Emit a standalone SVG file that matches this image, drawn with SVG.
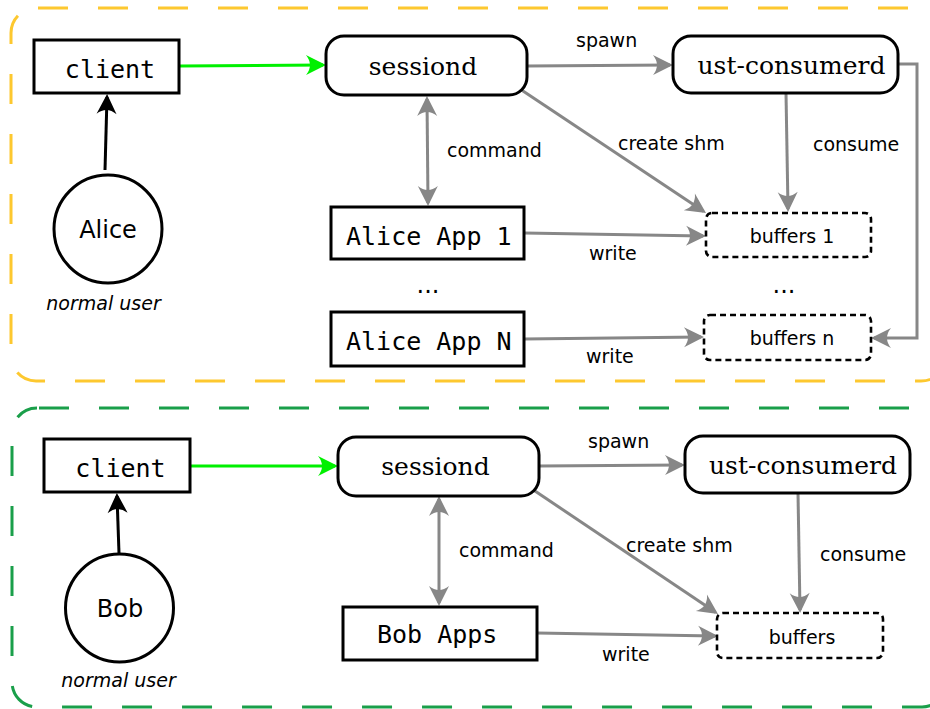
<svg xmlns="http://www.w3.org/2000/svg" width="930" height="709" viewBox="0 0 930 709">
  <style>
    .zone { fill: none; stroke-width: 3; stroke-dasharray: 30 30; stroke-dashoffset: -2; }
    .box { fill: #fff; stroke: #000; stroke-width: 3; }
    .buf { fill: #fff; stroke: #000; stroke-width: 2.6; stroke-dasharray: 6 4; }
    .mono { font-family: "DejaVu Sans Mono", "Liberation Mono", monospace; font-size: 25px; fill: #000; }
    .serif { font-family: "DejaVu Serif", "Liberation Serif", serif; font-size: 25px; fill: #000; }
    .sans { font-family: "DejaVu Sans", "Liberation Sans", sans-serif; font-size: 19px; fill: #000; }
    .user { font-family: "DejaVu Sans", "Liberation Sans", sans-serif; font-size: 24px; fill: #000; }
    .role { font-family: "DejaVu Sans", "Liberation Sans", sans-serif; font-size: 19px; font-style: italic; fill: #000; }
    .mid { text-anchor: middle; }
    .gray { fill: none; stroke: #878787; stroke-width: 3; marker-end: url(#ah-gray); }
    .both { marker-start: url(#ah-gray); }
    .green { fill: none; stroke: #00f000; stroke-width: 3; marker-end: url(#ah-green); }
    .black { fill: none; stroke: #000; stroke-width: 3; marker-end: url(#ah-black); }
  </style>
  <defs>
    <marker id="ah-gray" markerUnits="userSpaceOnUse" viewBox="-20 -12 26 24" markerWidth="26" markerHeight="24" refX="0" refY="0" orient="auto-start-reverse">
      <path d="M3,0 L-17,-10 Q-9,0 -17,10 Z" fill="#878787"/>
    </marker>
    <marker id="ah-green" markerUnits="userSpaceOnUse" viewBox="-20 -12 26 24" markerWidth="26" markerHeight="24" refX="0" refY="0" orient="auto">
      <path d="M3,0 L-17,-10 Q-9,0 -17,10 Z" fill="#00f000"/>
    </marker>
    <marker id="ah-black" markerUnits="userSpaceOnUse" viewBox="-20 -12 26 24" markerWidth="26" markerHeight="24" refX="0" refY="0" orient="auto">
      <path d="M3,0 L-17,-10 Q-9,0 -17,10 Z" fill="#000"/>
    </marker>
  </defs>

  <!-- user domains -->
  <rect id="alice-domain" class="zone" x="11" y="8" width="935" height="373" rx="25" stroke="#fdc82f"/>
  <rect id="bob-domain" class="zone" x="12" y="408" width="935" height="299" rx="25" stroke="#1a9f4a"/>

  <!-- connectors -->
  <g id="connectors">
    <!-- Alice -->
    <path class="green" d="M180,66 L323,65"/>
    <path class="black" d="M105,170 L107,97"/>
    <path class="gray" d="M527,66 L670,65"/>
    <path class="gray both" d="M427,99 L428,203"/>
    <path class="gray" d="M520,89 L703.5,211.3"/>
    <path class="gray" d="M786,93 L788,209"/>
    <path class="gray" d="M898,64 H917 V338 H874"/>
    <path class="gray" d="M524,233 L703,236"/>
    <path class="gray" d="M524,339 L701,337"/>
    <!-- Bob -->
    <path class="green" d="M190,466 L335,466"/>
    <path class="black" d="M119,553 L117,496"/>
    <path class="gray" d="M539,466 L682,465"/>
    <path class="gray both" d="M439,499 L439,603"/>
    <path class="gray" d="M532,489 L715.5,612.3"/>
    <path class="gray" d="M798,493 L800,610"/>
    <path class="gray" d="M537,633 L715,636"/>
  </g>

  <!-- connector labels -->
  <g id="labels">
    <text class="sans" x="576" y="47">spawn</text>
    <text class="sans" x="447" y="157">command</text>
    <text class="sans" x="618" y="150">create shm</text>
    <text class="sans" x="813" y="151">consume</text>
    <text class="sans" x="589" y="260">write</text>
    <text class="sans" x="586" y="363">write</text>
    <text class="sans" x="588" y="448">spawn</text>
    <text class="sans" x="459" y="557">command</text>
    <text class="sans" x="626" y="552">create shm</text>
    <text class="sans" x="820" y="561">consume</text>
    <text class="sans" x="602" y="661">write</text>
    <text class="user mid" x="428" y="293">...</text>
    <text class="user mid" x="784" y="293">...</text>
  </g>

  <!-- Alice nodes -->
  <g id="alice-client">
    <rect class="box" x="34" y="40" width="145" height="53"/>
    <text class="mono mid" x="110" y="78">client</text>
  </g>
  <g id="alice">
    <circle class="box" cx="108" cy="229" r="54"/>
    <text class="user mid" x="108" y="238">Alice</text>
    <text class="role mid" x="103.5" y="310">normal user</text>
  </g>
  <g id="alice-sessiond">
    <rect class="box" x="326" y="36" width="201" height="59" rx="18"/>
    <text class="serif mid" x="423" y="75">sessiond</text>
  </g>
  <g id="alice-consumerd">
    <rect class="box" x="673" y="36" width="225" height="57" rx="18"/>
    <text class="serif mid" x="791.5" y="74">ust-consumerd</text>
  </g>
  <g id="alice-app-1">
    <rect class="box" x="331" y="207" width="193" height="52"/>
    <text class="mono" x="346" y="245">Alice App 1</text>
  </g>
  <g id="alice-app-n">
    <rect class="box" x="331" y="312" width="193" height="54"/>
    <text class="mono" x="346" y="350">Alice App N</text>
  </g>
  <g id="alice-buffers-1">
    <rect class="buf" x="706" y="213" width="165" height="44" rx="6"/>
    <text class="sans mid" x="792" y="243">buffers 1</text>
  </g>
  <g id="alice-buffers-n">
    <rect class="buf" x="704" y="315" width="167" height="45" rx="6"/>
    <text class="sans mid" x="792" y="345">buffers n</text>
  </g>

  <!-- Bob nodes -->
  <g id="bob-client">
    <rect class="box" x="44" y="439" width="146" height="53"/>
    <text class="mono mid" x="120.5" y="477">client</text>
  </g>
  <g id="bob">
    <circle class="box" cx="119.5" cy="608" r="54"/>
    <text class="user mid" x="120" y="617">Bob</text>
    <text class="role mid" x="118.5" y="687">normal user</text>
  </g>
  <g id="bob-sessiond">
    <rect class="box" x="338" y="437" width="201" height="59" rx="18"/>
    <text class="serif mid" x="435.5" y="475">sessiond</text>
  </g>
  <g id="bob-consumerd">
    <rect class="box" x="685" y="436" width="225" height="57" rx="18"/>
    <text class="serif mid" x="803" y="474">ust-consumerd</text>
  </g>
  <g id="bob-apps">
    <rect class="box" x="343" y="607" width="194" height="53"/>
    <text class="mono" x="377" y="643">Bob Apps</text>
  </g>
  <g id="bob-buffers">
    <rect class="buf" x="717" y="613" width="166" height="45" rx="6"/>
    <text class="sans mid" x="802" y="644">buffers</text>
  </g>
</svg>
